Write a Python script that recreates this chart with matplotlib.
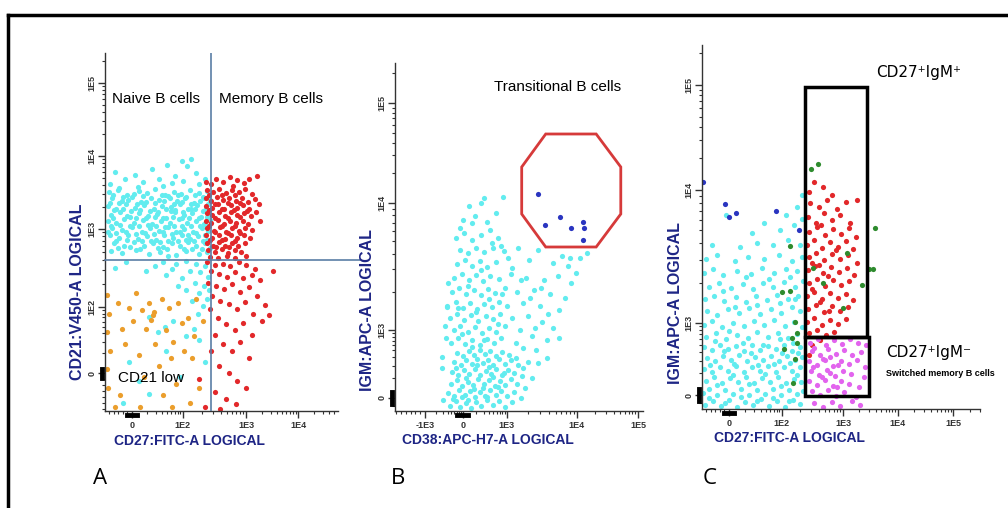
import numpy as np
import matplotlib
matplotlib.use("Agg")
import matplotlib.pyplot as plt
from matplotlib.lines import Line2D
from matplotlib.patches import Polygon, Rectangle

plt.rcParams['font.family'] = ['Liberation Sans', 'DejaVu Sans']

# ---- data (logical display channels, 100 per decade step) ----
# panel A : CD27 (x) vs CD21 (y)
a_naive = [(-30,272),(-12,262),(5,268),(20,258),(35,276),(48,262),(62,281),(75,266),(88,286),(97,279),
           (104,289),(112,270),(90,259),(55,252),(-38,255),(128,262),(10,251),(118,255),(70,256),(-22,250),
           (-40,244),(-25,247),(-8,241),(12,246),(27,243),(41,248),(58,240),(73,245),(86,242),(101,247),(117,243),(132,246),
           (-35,236),(-18,232),(0,238),(16,231),(33,237),(47,233),(64,239),(79,232),(93,236),(108,230),(124,238),(136,233),
           (-42,226),(-28,222),(-10,228),(6,223),(22,227),(38,221),(53,226),(69,224),(84,228),(98,222),(114,227),(129,223),(-2,219),(45,218),
           (-37,214),(-20,217),(-4,211),(13,216),(29,212),(44,215),(60,210),(76,217),(91,213),(105,216),(121,211),(135,215),(68,219),(110,222),
           (-41,206),(-27,203),(-13,208),(3,202),(19,207),(36,201),(51,206),(66,203),(82,208),(96,202),(112,206),(127,201),(137,207),(58,197),
           (-34,196),(-17,193),(1,197),(17,191),(31,196),(48,192),(63,197),(78,190),(92,195),(107,191),(122,196),(134,192),
           (-39,186),(-23,182),(-6,187),(10,181),(26,185),(42,180),(57,186),(72,182),(87,187),(101,181),(116,185),(131,180),
           (-31,176),(-14,172),(4,177),(21,171),(37,175),(54,170),(70,176),(85,172),(99,177),(113,171),(128,175),(137,169),
           (-36,165),(-18,162),(8,166),(30,161),(50,164),(78,160),(95,165),(118,161),(132,164),(64,158),
           (-33,240),(-16,238),(4,242),(20,239),(52,241),(66,237),(80,240),(95,238),(110,241),(126,237),
           (-38,230),(-22,229),(-6,233),(9,228),(25,231),(40,229),(57,232),(73,228),(88,231),(103,228),(119,232),(133,228),
           (-31,220),(-15,222),(15,220),(31,219),(60,221),(76,220),(90,218),(103,221),(125,219),
           (-33,209),(-8,212),(8,210),(24,209),(40,211),(55,209),(72,211),(87,209),(100,210),(117,209),(131,211),
           (-36,199),(-21,200),(-4,199),(12,198),(28,200),(43,198),(74,199),(88,199),(103,198),(119,199),(132,198),
           (-42,191),(-27,189),(-10,190),(7,188),(23,189),(38,188),(54,190),(70,188),(84,190),(99,187),(113,189),(128,187),
           (-28,179),(-9,180),(17,178),(34,179),(49,177),(64,179),(81,178),(95,180),(108,178),(124,179),
           (-25,169),(-3,170),(14,168),(45,169),(61,168),(92,168),(106,167),(122,168),
           (55,150),(78,147),(95,151),(112,148),(128,145),(70,140),(102,138),(120,136),(134,130),(88,128),
           (110,122),(126,118),(60,132),(40,145),(25,138),(-30,142),(-10,150),(135,112),(118,108),(95,112),
           (80,118),(132,100),(105,98),(124,90),(115,80),
           (30,76),(45,55),(72,70),(58,62),(95,50),(118,45),(108,60),(-5,15),(12,-10),(30,-28),(85,-5),(128,15),(-15,-40),(60,30)]
a_cd21low = [(-44,105),(-40,80),(-43,55),(-38,30),(-44,5),(-41,-20),(-30,-45),(-25,95),(-18,60),(-12,40),(-5,88),(2,70),
             (8,108),(12,25),(18,85),(22,-5),(25,60),(30,95),(34,72),(37,78),(38,82),(40,40),(48,10),(52,100),(55,-30),
             (60,58),(65,88),(68,20),(72,42),(78,-15),(80,95),(88,68),(92,30),(98,75),(102,-40),(108,50),(112,100),
             (118,-20),(125,70),(105,20),(70,-45),(15,-45),(-20,-30)]
a_memory = [(148,262),(160,258),(172,265),(185,260),(196,256),(178,252),(138,255),(130,258),(219,266),(205,262),
            (131,247),(142,244),(153,249),(165,243),(176,247),(188,244),(199,248),(210,242),
            (129,236),(138,232),(149,238),(160,233),(171,237),(182,232),(193,236),(204,231),(215,235),
            (130,226),(140,223),(151,228),(162,222),(173,227),(184,223),(195,227),(206,222),(222,228),
            (131,216),(141,213),(152,218),(163,212),(174,217),(185,213),(196,216),(208,212),(218,217),
            (129,206),(139,202),(150,207),(161,201),(172,206),(183,202),(194,206),(204,201),(225,205),
            (132,196),(143,192),(154,197),(165,191),(176,196),(187,192),(198,196),(210,193),
            (130,186),(141,182),(152,187),(163,181),(174,186),(185,182),(196,187),(207,183),
            (131,176),(142,172),(153,177),(164,171),(175,176),(186,172),(198,176),
            (133,166),(145,163),(157,167),(168,162),(180,166),(192,163),
            (137,157),(151,156),(166,158),(181,155),(200,158),
            (135,241),(157,240),(180,240),(146,228),(168,230),(190,230),(135,220),(157,221),(179,220),(201,219),
            (146,210),(168,209),(190,211),(135,199),(157,199),(180,198),(146,190),(168,189),(190,189),(137,180),
            (158,180),(180,179),(148,170),(170,170),
            (132,150),(145,146),(160,148),(172,144),(188,150),(200,146),(215,140),(138,138),(152,134),(166,130),
            (180,136),(195,128),(210,132),(225,126),(247,138),(134,122),(148,118),(162,114),(176,120),(190,110),
            (205,116),(220,104),(233,92),(241,78),(140,104),(155,98),(170,94),(185,86),(198,96),(212,80),
            (228,70),(136,86),(150,74),(165,66),(180,58),(195,68),(210,52),(145,52),(160,40),(175,30),
            (190,42),(205,20),(138,30),(152,10),(170,0),(185,-10),(200,-20),(145,-25),(165,-35),(182,-42),
            (128,-45),(155,-48),(118,-8)]

# panel B : CD38 (x) vs IgM (y)
b_bcells = [(-22,-8),(-12,-3),(-4,-9),(5,-5),(14,-10),(22,-4),(31,-8),(40,-2),(50,-7),(60,-3),(70,-9),(82,-4),
            (-25,5),(-15,2),(-6,8),(3,3),(12,7),(20,1),(28,6),(37,2),(46,8),(55,3),(64,7),(74,2),(86,6),(96,0),
            (-20,14),(-10,18),(-1,12),(8,16),(17,13),(26,19),(35,14),(44,18),(53,12),(62,17),(71,13),(80,19),(90,14),(104,10),
            (-18,26),(-8,23),(2,28),(11,24),(20,29),(29,23),(38,27),(47,24),(56,29),(65,23),(75,28),(85,25),(98,22),(115,20),
            (-14,36),(-3,33),(6,38),(15,34),(24,39),(33,35),(42,38),(51,33),(60,39),(70,34),(80,38),(92,33),(108,36),
            (-9,45),(0,42),(10,47),(19,43),(28,48),(37,44),(46,47),(56,42),(66,46),(77,43),
            (-20,55),(-8,60),(4,54),(16,58),(28,53),(40,59),(52,55),(64,60),(88,55),(100,50),(122,48),
            (-15,68),(-4,72),(8,66),(20,71),(32,65),(44,70),(56,66),(70,72),(95,68),(115,62),(140,58),
            (-22,80),(-10,84),(2,78),(14,83),(26,77),(38,82),(50,79),(62,84),(82,80),(108,82),(132,76),(150,70),
            (-27,92),(-12,96),(0,90),(12,95),(24,89),(36,94),(48,91),(60,96),(74,92),(100,95),(128,92),(160,88),
            (-18,106),(-6,110),(6,104),(18,108),(30,103),(42,109),(54,105),(70,110),(90,106),(118,108),(145,104),(170,100),
            (-14,120),(-2,124),(10,118),(22,123),(34,117),(46,122),(60,119),(80,124),(105,120),(135,118),(158,122),(180,115),
            (-10,134),(4,138),(16,132),(28,137),(40,131),(55,136),(75,140),(110,138),(150,135),(175,132),
            (-5,148),(8,145),(22,150),(36,146),(50,150),(68,147),(92,150),(125,148),(165,142),(195,140),(207,145),
            (-12,160),(2,165),(15,158),(30,163),(45,168),(58,160),(0,178),(20,182),(40,176),(55,185),(10,192),
            (30,195),(67,201),(-5,170),(48,155),(-35,41),(-35,30),(-33,-2),(-27,91),
            (-17,-1),(-2,1),(9,-2),(18,9),(33,10),(41,1),(51,21),(59,11),(68,25),(-12,30),(6,20),(24,33),
            (44,31),(15,51),(35,58),(-2,64),(22,86),(44,99),(8,112),(30,128),(-8,90),(58,74),(66,104),(82,130),
            (64,152),(96,118),(112,100),(130,110),(142,84),(120,70),(88,40),(100,30),(125,35),(140,40),(160,60),
            (178,140),(188,125),(-28,60),(-30,72),(-24,115),(16,175),(35,200)]
b_transitional = [(125,204),(137,173),(162,181),(180,170),(200,176),(202,170),(200,158)]

# panel C : CD27 (x) vs IgM (y)
c_cd27neg = [(-42,-10),(-28,-6),(-14,-11),(0,-5),(14,-12),(28,-7),(42,-10),(56,-4),(70,-11),(84,-6),(98,-12),(112,-5),(125,-9),
             (-45,2),(-35,6),(-21,0),(-7,5),(7,1),(21,6),(35,0),(49,5),(63,1),(77,6),(91,0),(105,5),(119,1),(130,4),
             (-40,14),(-26,18),(-12,12),(2,17),(16,13),(30,18),(44,12),(58,17),(72,13),(86,18),(100,12),(114,16),(127,13),
             (-44,26),(-30,23),(-16,28),(-2,24),(12,29),(26,23),(40,28),(54,24),(68,29),(82,23),(96,28),(110,24),(124,28),
             (-38,37),(-24,34),(-10,39),(4,35),(18,40),(32,34),(46,38),(60,35),(74,39),(88,34),(102,39),(116,35),(129,38),
             (-43,48),(-29,45),(-15,50),(-1,46),(13,49),(27,44),(41,50),(55,45),(69,49),(83,46),(97,50),(111,44),(125,48),
             (-40,58),(-22,62),(-5,56),(15,60),(33,57),(50,63),(68,58),(86,62),(104,57),(120,61),
             (-44,70),(-30,74),(-12,68),(8,72),(26,69),(44,74),(62,70),(80,75),(98,69),(115,73),(128,68),
             (-38,84),(-20,80),(-2,86),(18,82),(36,87),(55,81),(73,86),(92,82),(110,88),(124,84),
             (-42,96),(-26,99),(-8,94),(12,98),(30,93),(48,99),(66,95),(85,100),(104,96),(122,99),
             (-35,108),(-18,112),(4,107),(24,111),(42,106),(60,112),(78,108),(96,113),(116,108),(130,114),
             (-44,122),(-28,126),(-10,120),(14,124),(38,121),(58,127),(80,122),(100,126),(120,124),
             (-40,136),(-20,140),(10,134),(34,138),(62,136),(88,140),(110,134),(128,138),
             (-30,150),(20,148),(50,152),(78,150),(104,155),(124,150),
             (40,162),(90,165),(115,170),(128,176),(100,180),(120,188),(128,200),(62,172),(-5,180),
             (-35,-3),(-21,10),(-7,-8),(7,20),(21,-2),(35,11),(49,-6),(63,21),(77,-3),(91,9),(105,-6),(119,20),
             (-33,30),(-9,44),(9,31),(39,42),(51,30),(79,31),(93,42),(107,32),(121,42),(-25,54),(0,64),(25,52),
             (60,50),(90,56),(112,52),(-50,88),(10,88),(50,90),(90,92),(116,96),(-10,104),(30,118),(70,116),(108,118)]
c_igm_pos = [(150,213),(165,208),(140,203),(180,200),
             (142,192),(158,188),(172,195),(190,186),(205,193),(225,195),
             (138,178),(152,172),(166,182),(180,175),(195,180),(212,172),
             (140,163),(154,168),(168,160),(182,166),(196,161),(210,167),(222,158),
             (137,150),(150,155),(163,147),(177,153),(191,148),(205,154),(218,146),
             (140,138),(153,142),(167,135),(181,141),(195,136),(209,140),(225,132),
             (138,125),(151,129),(165,122),(179,128),(193,123),(207,127),(220,120),
             (140,112),(154,116),(168,109),(182,115),(196,110),(210,114),
             (137,99),(150,103),(164,96),(178,102),(192,97),(206,101),(218,95),
             (139,86),(152,90),(166,83),(180,89),(194,84),(208,88),
             (137,73),(150,77),(164,70),(178,75),(192,71),(205,76),
             (140,62),(155,65),(170,60),(185,63),(145,50),(160,55),(140,40),
             (145,106),(159,93),(173,119),(187,145),(161,170),(145,132),(175,84),(158,130)]
c_switched = [(142,52),(156,56),(170,50),(184,55),(198,51),(212,56),(226,52),(240,50),
              (145,44),(159,40),(173,46),(187,41),(201,45),(215,40),(232,43),
              (141,34),(155,30),(169,35),(183,29),(197,34),(211,31),(225,35),(238,28),
              (144,24),(158,20),(172,25),(186,19),(200,24),(214,21),(236,18),
              (140,14),(154,10),(168,15),(182,9),(196,14),(210,11),(228,8),
              (145,4),(159,0),(173,5),(187,-1),(201,3),(222,-2),
              (150,-8),(165,-12),(180,-7),(195,-11),(230,-10),(215,-6),
              (150,47),(165,36),(178,22),(192,30),(163,18),(177,38),(148,28),(189,8)]
c_other = [(144,226),(156,231),(107,149),(93,103),(107,104),(116,73),(119,62),(110,57),(119,52),(96,46),
           (116,36),(112,12),(147,127),(165,112),(200,87),(207,142),(233,110),(246,126),(253,126),(256,167)]
c_high = [(-45,213),(-7,191),(0,178),(12,182),(82,184),(123,165)]

# axis scales: channel position of each labelled decade
a_xticks, a_xlabels = [0, 89, 200, 291], ['0', '1E2', '1E3', '1E4']
a_yticks, a_ylabels = [0, 89, 195, 293, 392], ['0', '1E2', '1E3', '1E4', '1E5']
b_xticks, b_xlabels = [-63, 0, 73, 190, 292], ['-1E3', '0', '1E3', '1E4', '1E5']
b_yticks, b_ylabels = [0, 68, 195, 295], ['0', '1E3', '1E4', '1E5']
c_xticks, c_xlabels = [0, 93, 200, 296, 393], ['0', '1E2', '1E3', '1E4', '1E5']
c_yticks, c_ylabels = [0, 72, 205, 310], ['0', '1E3', '1E4', '1E5']

# gates
a_gate_x, a_gate_y = 139, 153
b_gate = [(138, 264), (222, 264), (263, 231), (263, 184), (222, 151), (138, 151), (98, 184), (98, 231)]
c_gate_igm_pos = (133, 58, 109, 250)
c_gate_switched = (133, -1, 113, 59)

CYAN = '#62ecef'
RED = '#e2282a'
ORANGE = '#eb9e2c'
MAGENTA = '#e264ee'
GREEN = '#2e8b2e'
BLUE = '#2a35c0'
NAVY = '#1e2585'
GATE = '#5a7ea6'
MS = 14


def minor_ticks(majors, lo, hi):
    step = majors[-1] - majors[-2]
    pts = list(majors) + [majors[-1] + step]
    out = []
    for a, b in zip(pts[:-1], pts[1:]):
        for k in range(2, 10):
            out.append(a + np.log10(k) * (b - a))
    first = pts[0]
    out += [first - d for d in (8, 16, 24, 32, 40, 48, 56)]
    return [v for v in out if lo < v < hi]


def style_axes(ax, xt, xl, yt, yl, xlim, ylim):
    ax.set_xlim(*xlim)
    ax.set_ylim(*ylim)
    for s in ['top', 'right']:
        ax.spines[s].set_visible(False)
    for s in ['left', 'bottom']:
        ax.spines[s].set_color('#333333')
        ax.spines[s].set_linewidth(1.0)
    ax.set_xticks(xt)
    ax.set_xticklabels(xl, fontsize=6.5, fontweight='bold', color='#333333')
    ax.set_yticks(yt)
    ax.set_yticklabels(yl, fontsize=6.5, fontweight='bold', color='#333333', rotation=90, va='center')
    ax.set_xticks(minor_ticks(xt, *xlim), minor=True)
    ax.set_yticks(minor_ticks(yt, *ylim), minor=True)
    ax.tick_params(which='major', direction='out', length=5, width=1, color='#333333', pad=2)
    ax.tick_params(axis='y', which='major', pad=1)
    ax.tick_params(which='minor', direction='out', length=2.5, width=0.8, color='#333333')
    # pile of events at zero
    ax.plot([-9, 9], [-0.012, -0.012], color='black', lw=3.5, transform=ax.get_xaxis_transform(), clip_on=False)
    ax.plot([-0.012, -0.012], [-6, 6], color='black', lw=3.5, transform=ax.get_yaxis_transform(), clip_on=False)


def scat(ax, pts, color):
    x, y = zip(*pts)
    ax.scatter(x, y, s=MS, c=color, linewidths=0, zorder=2)


fig = plt.figure(figsize=(10.08, 5.08), dpi=100)


def fx(px):
    return px / 1008


def fy(py):
    return 1 - py / 508


# ---- A ----
axA = fig.add_axes([fx(105), fy(411), fx(338) - fx(105), fy(53) - fy(411)])
style_axes(axA, a_xticks, a_xlabels, a_yticks, a_ylabels, (-47, 361), (-51, 432))
scat(axA, a_naive, CYAN)
scat(axA, a_cd21low, ORANGE)
scat(axA, a_memory, RED)
axA.axvline(a_gate_x, color=GATE, lw=1.2, zorder=3)
axA.plot([-47, 400], [a_gate_y, a_gate_y], color=GATE, lw=1.2, zorder=3, clip_on=False)
axA.text(-35, 370, 'Naive B cells', fontsize=11, va='center')
axA.text(152, 370, 'Memory B cells', fontsize=11, va='center')
axA.text(-25, -7, 'CD21 low', fontsize=11, va='center')

# ---- B ----
axB = fig.add_axes([fx(395), fy(411), fx(643) - fx(395), fy(63) - fy(411)])
style_axes(axB, b_xticks, b_xlabels, b_yticks, b_ylabels, (-113, 300), (-13, 335))
scat(axB, b_bcells, CYAN)
scat(axB, b_transitional, BLUE)
axB.add_patch(Polygon(b_gate, closed=True, fill=False, edgecolor='#d63a3a', lw=2, zorder=3))
axB.text(158, 311, 'Transitional B cells', fontsize=11, ha='center', va='center')

# ---- C ----
axC = fig.add_axes([fx(702), fy(409), fx(980) - fx(702), fy(45) - fy(409)])
style_axes(axC, c_xticks, c_xlabels, c_yticks, c_ylabels, (-47, 440), (-14, 350))
scat(axC, c_cd27neg, CYAN)
scat(axC, c_igm_pos, RED)
scat(axC, c_switched, MAGENTA)
scat(axC, c_other, GREEN)
scat(axC, c_high, BLUE)
for g in (c_gate_igm_pos, c_gate_switched):
    axC.add_patch(Rectangle(g[:2], g[2], g[3], fill=False, edgecolor='black', lw=2.5, zorder=4, clip_on=False))
axC.text(258, 322, 'CD27⁺IgM⁺', fontsize=11, va='center', family=['DejaVu Sans'])
axC.text(275, 42, 'CD27⁺IgM⁻', fontsize=11, va='center', family=['DejaVu Sans'])
axC.text(275, 22, 'Switched memory B cells', fontsize=6.5, fontweight='bold', va='center')

# axis titles
lab = dict(fontweight='bold', color=NAVY, ha='center', va='center')
fig.text(fx(189), fy(441), 'CD27:FITC-A LOGICAL', fontsize=10, **lab)
fig.text(fx(78), fy(292), 'CD21:V450-A LOGICAL', fontsize=11.5, rotation=90, **lab)
fig.text(fx(488), fy(440), 'CD38:APC-H7-A LOGICAL', fontsize=10, **lab)
fig.text(fx(367), fy(310), 'IGM:APC-A LOGICAL', fontsize=11.5, rotation=90, **lab)
fig.text(fx(675), fy(303), 'IGM:APC-A LOGICAL', fontsize=11.5, rotation=90, **lab)
fig.text(fx(789), fy(438), 'CD27:FITC-A LOGICAL', fontsize=10, **lab)

# panel letters
for letter, px in (('A', 100), ('B', 398), ('C', 710)):
    fig.text(fx(px), fy(478), letter, fontsize=16, family=['Open Sans', 'DejaVu Sans'], ha='center', va='center')

# outer frame
fig.add_artist(Line2D([fx(8), 1], [fy(15), fy(15)], color='black', lw=2.5))
fig.add_artist(Line2D([fx(8), fx(8)], [0, fy(15)], color='black', lw=2.5))

fig.savefig('out.png', dpi=100)
